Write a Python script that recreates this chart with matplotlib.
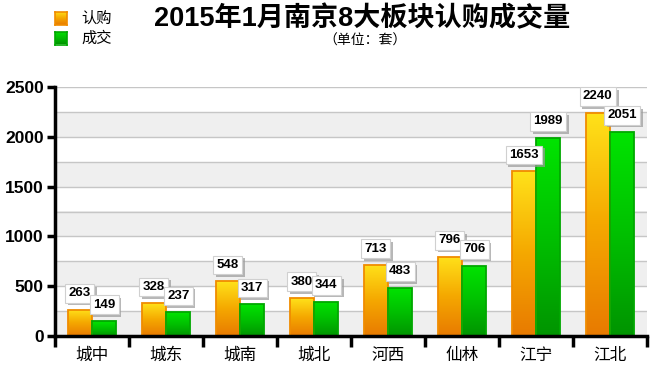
import numpy as np
import matplotlib.pyplot as plt
import matplotlib.patheffects as pe
from matplotlib.colors import LinearSegmentedColormap

plt.rcParams['font.family'] = ['Liberation Sans', 'Noto Sans CJK SC', 'DejaVu Sans']

categories = ['城中', '城东', '城南', '城北', '河西', '仙林', '江宁', '江北']
rengou = [263, 328, 548, 380, 713, 796, 1653, 2240]
chengjiao = [149, 237, 317, 344, 483, 706, 1989, 2051]

orange_cmap = LinearSegmentedColormap.from_list('og', ['#e87a00', '#f5a800', '#ffe21a'])
green_cmap = LinearSegmentedColormap.from_list('gr', ['#009400', '#00c000', '#00e400'])


def gradient_bars(ax, bars, cmap):
    grad = np.linspace(0, 1, 256).reshape(-1, 1)
    for b in bars:
        x0, y0 = b.get_x(), b.get_y()
        w, h = b.get_width(), b.get_height()
        im = ax.imshow(grad, cmap=cmap, origin='lower', aspect='auto',
                       extent=(x0, x0 + w, y0, y0 + h), zorder=2)
        im.set_clip_path(b)


def value_label(ax, x, y, v):
    t = ax.annotate(str(v), (x, y), xytext=(0, 7.5), textcoords='offset points',
                    ha='center', va='bottom', fontsize=9.5, fontweight='bold', color='black',
                    bbox=dict(boxstyle='square,pad=0.25', fc='white', ec='#d0d0d0', lw=0.8),
                    zorder=5, annotation_clip=False)
    t.get_bbox_patch().set_path_effects([
        pe.SimplePatchShadow(offset=(2, -2), shadow_rgbFace='#999999', alpha=0.7),
        pe.Normal()])


fig = plt.figure(figsize=(6.55, 3.71), dpi=100)
ax = fig.add_axes([55 / 655, 35 / 371, 592 / 655, 249 / 371])

x = np.arange(len(categories))
w = 0.324

# alternating background bands + grid lines
for lo in range(0, 2500, 500):
    ax.axhspan(lo, lo + 250, color='#efefef', zorder=0, lw=0)
for g in range(250, 2501, 250):
    ax.axhline(g, color='#c6c6c6', lw=1, zorder=1)

b1 = ax.bar(x - 0.165, rengou, w, facecolor='none', edgecolor='#f08c00', lw=1.3, zorder=3)
b2 = ax.bar(x + 0.165, chengjiao, w, facecolor='none', edgecolor='#00a800', lw=1.3, zorder=3)
gradient_bars(ax, b1, orange_cmap)
gradient_bars(ax, b2, green_cmap)
ax.set_xlim(-0.5, len(categories) - 0.5)
ax.set_ylim(0, 2500)

for bars, vals in [(b1, rengou), (b2, chengjiao)]:
    for b, v in zip(bars, vals):
        value_label(ax, b.get_x() + b.get_width() / 2, v, v)

for s in ['top', 'right']:
    ax.spines[s].set_visible(False)
for s in ['left', 'bottom']:
    ax.spines[s].set_linewidth(2.5)
    ax.spines[s].set_zorder(6)

ax.set_yticks(range(0, 2501, 500))
ax.set_yticklabels([str(t) for t in range(0, 2501, 500)], fontsize=12.5, fontweight='bold')
ax.tick_params(axis='y', length=6, width=2.5, pad=2)

ax.set_xticks(np.arange(-0.5, len(categories)), minor=False)
ax.set_xticklabels([])
ax.tick_params(axis='x', which='major', length=8, width=2.5)
ax.set_xticks(x, minor=True)
ax.set_xticklabels(categories, minor=True, fontsize=12, family=['Noto Sans CJK SC'])
ax.tick_params(axis='x', which='minor', length=0, pad=8)

fig.text(362 / 655, 1 - 19 / 371, '2015年1月南京8大板块认购成交量', ha='center', va='center',
         fontsize=19.5, fontweight='bold')
fig.text(365 / 655, 1 - 41 / 371, '（单位：套）', ha='center', va='center', fontsize=10,
         family=['Noto Sans CJK SC'])

# legend squares
grad = np.linspace(0, 1, 64).reshape(-1, 1)
for ypix, cmap, ec, lab in [(18.5, orange_cmap, '#f08c00', '认购'), (38, green_cmap, '#00a800', '成交')]:
    lax = fig.add_axes([55 / 655, 1 - (ypix + 6.5) / 371, 12 / 655, 13 / 371])
    lax.imshow(grad, cmap=cmap, origin='lower', aspect='auto')
    lax.set_xticks([])
    lax.set_yticks([])
    for sp in lax.spines.values():
        sp.set_color(ec)
        sp.set_linewidth(1.2)
    fig.text(81 / 655, 1 - ypix / 371, lab, ha='left', va='center', fontsize=11,
             family=['Noto Sans CJK SC'])

fig.savefig('out.png', dpi=100)
